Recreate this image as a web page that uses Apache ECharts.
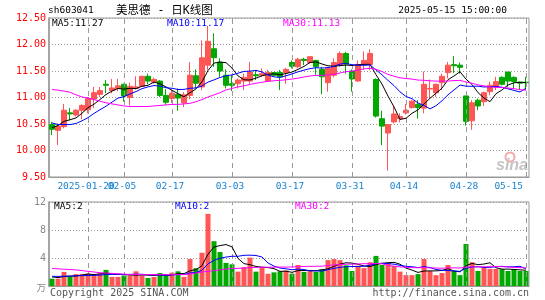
<!DOCTYPE html>
<html><head><meta charset="utf-8">
<script src="https://cdn.jsdelivr.net/npm/echarts@6/dist/echarts.min.js"></script>
<style>html,body{margin:0;padding:0;background:#fff}#c{width:545px;height:300px}</style>
</head><body><div id="c"></div>
<script>
const dates = [
'2025-01-10','2025-01-13','2025-01-14','2025-01-15','2025-01-16','2025-01-17',
'2025-01-20','2025-01-21','2025-01-22','2025-01-23','2025-01-24','2025-01-27',
'2025-02-05','2025-02-06','2025-02-07','2025-02-10','2025-02-11','2025-02-12','2025-02-13','2025-02-14',
'2025-02-17','2025-02-18','2025-02-19','2025-02-20','2025-02-21','2025-02-24','2025-02-25','2025-02-26','2025-02-27','2025-02-28',
'2025-03-03','2025-03-04','2025-03-05','2025-03-06','2025-03-07','2025-03-10','2025-03-11','2025-03-12','2025-03-13','2025-03-14',
'2025-03-17','2025-03-18','2025-03-19','2025-03-20','2025-03-21','2025-03-24','2025-03-25','2025-03-26','2025-03-27','2025-03-28',
'2025-03-31','2025-04-01','2025-04-02','2025-04-03','2025-04-07','2025-04-08','2025-04-09','2025-04-10','2025-04-11',
'2025-04-14','2025-04-15','2025-04-16','2025-04-17','2025-04-18','2025-04-21','2025-04-22','2025-04-23','2025-04-24','2025-04-25',
'2025-04-28','2025-04-29','2025-04-30','2025-05-06','2025-05-07','2025-05-08','2025-05-09','2025-05-12','2025-05-13','2025-05-14','2025-05-15'];

const open  = [10.49,10.38,10.45,10.71,10.67,10.76,10.77,10.97,11.06,11.25, 11.13,11.17,11.25,11.00,11.17,11.21,11.40,11.29,11.31,11.04,
               10.98,11.06,10.90,11.04,11.41,11.20,11.61,11.92,11.67,11.42, 11.26,11.26,11.31,11.31,11.43,11.42,11.31,11.47,11.47,11.47,
               11.66,11.58,11.72,11.66,11.70,11.53,11.28,11.42,11.61,11.83, 11.50,11.31,11.62,11.62,11.34,10.60,10.33,10.54,10.60,10.71,
               10.81,10.87,10.80,11.16,11.09,11.28,11.47,11.62,11.61,11.03, 10.56,10.95,10.92,11.11,11.20,11.38,11.48,11.38,11.29,11.29];
const close = [10.40,10.46,10.76,10.69,10.76,10.85,10.98,11.09,11.13,11.23, 11.18,11.22,11.03,11.21,11.20,11.40,11.31,11.34,11.04,10.91,
               11.08,10.99,11.05,11.42,11.27,11.75,12.06,11.75,11.50,11.23, 11.23,11.33,11.38,11.48,11.41,11.45,11.47,11.42,11.39,11.53,
               11.59,11.72,11.70,11.77,11.58,11.39,11.55,11.66,11.83,11.63, 11.35,11.62,11.70,11.83,10.65,10.46,10.49,10.69,10.64,10.76,
               10.93,10.81,11.25,11.17,11.25,11.40,11.61,11.60,11.57,10.55, 10.90,10.84,11.09,11.23,11.30,11.25,11.31,11.30,11.27,11.28];
const low   = [10.29,10.10,10.42,10.57,10.64,10.59,10.70,10.80,11.01,11.08, 11.08,11.12,10.92,10.85,11.15,11.20,11.25,11.26,11.01,10.86,
               10.90,10.75,10.82,10.97,11.18,11.14,11.52,11.58,11.39,11.17, 11.12,11.17,11.14,11.26,11.33,11.39,11.30,11.40,11.14,11.26,
               11.55,11.55,11.61,11.64,11.43,11.06,11.11,11.38,11.58,11.45, 11.11,11.30,11.52,11.52,10.62,10.10, 9.62,10.51,10.53,10.68,
               10.79,10.60,10.70,10.98,11.01,11.14,11.36,11.46,11.45,10.47, 10.39,10.76,10.84,11.04,11.14,11.23,11.20,11.17,11.14,11.14];
const high  = [10.54,10.51,10.88,10.80,10.78,10.87,11.01,11.20,11.20,11.33, 11.35,11.35,11.26,11.28,11.40,11.41,11.45,11.38,11.33,11.16,
               11.14,11.17,11.10,11.67,11.53,12.08,12.35,12.21,11.74,11.53, 11.42,11.36,11.45,11.67,11.52,11.55,11.52,11.48,11.52,11.56,
               11.70,11.75,11.75,11.78,11.71,11.58,11.58,11.74,11.87,11.86, 11.53,11.70,11.87,11.91,11.36,10.75,10.50,10.84,10.70,10.88,
               10.95,10.95,11.49,11.34,11.26,11.45,11.67,11.78,11.66,11.03, 10.95,10.98,11.11,11.30,11.39,11.40,11.48,11.40,11.30,11.39];
const volume = [1.05,1.05,2.0,1.33,1.7,1.7,1.8,1.6,1.8,2.3, 1.3,1.3,1.5,1.5,2.1,1.5,1.15,1.3,1.85,1.7,
                1.9,2.1,1.3,3.85,2.55,4.75,10.3,6.4,4.85,3.3, 3.1,2.05,2.7,4.05,2.05,2.6,1.75,1.95,2.1,2.2,
                1.76,3.0,2.0,2.15,2.0,2.4,3.7,3.85,3.7,2.95, 2.15,2.9,2.55,3.4,4.3,3.0,3.35,2.85,2.05,1.55,
                1.55,1.7,3.85,2.15,1.55,1.85,3.0,2.15,1.55,6.0, 3.4,2.15,2.6,2.45,2.45,2.4,2.15,2.4,2.15,2.15];

// moving-average values for days whose window starts before the visible range
const ma5Head  = [10.43,10.47,10.55,10.58];
const ma10Head = [10.52,10.49,10.49,10.49,10.51,10.56,10.62,10.70,10.77];
const ma30Head = [11.15,11.14,11.12,11.10,11.05,11.01,10.99,10.96,10.93,10.90,10.88,10.86,10.84,10.83,10.83,10.83,10.83,10.84,10.85,10.86,
                  10.87,10.87,10.88,10.89,10.92,10.96,11.01,11.05,11.09];
const vma5Head  = [1.30,1.20,1.35,1.40];
const vma10Head = [1.38,1.37,1.40,1.42,1.45,1.48,1.50,1.52,1.56];
const vma30Head = [2.50,2.45,2.40,2.35,2.30,2.20,2.10,2.00,1.90,1.85,1.80,1.75,1.70,1.65,1.65,1.62,1.62,1.62,1.62,1.62,
                   1.62,1.62,1.62,1.70,1.85,2.00,2.10,2.20,2.30];

const labelDates = ['2025-01-20','2025-02-05','2025-02-17','2025-03-03','2025-03-17','2025-03-31','2025-04-14','2025-04-28','2025-05-15'];
const volTicks = [12, 8, 4, 0];
const volTickText = ['12', '8', '4', '万'];

const RED = '#ff5555', GREEN = '#00a800', MONO = '"DejaVu Sans Mono"';

function movingAvg(vals, n, head) {
  return vals.map((v, i) => {
    if (i < n - 1) return head[i];
    let s = 0;
    for (let j = i - n + 1; j <= i; j++) s += vals[j];
    return +(s / n).toFixed(3);
  });
}
const labelIdx = labelDates.map(d => dates.indexOf(d));
const kData = dates.map((d, i) => [open[i], close[i], low[i], high[i]]);
const vData = volume.map((v, i) => ({ value: v, itemStyle: { color: close[i] >= open[i] ? RED : GREEN, opacity: 1 } }));

const vLines = {
  silent: true, symbol: ['none', 'none'], animation: false,
  label: { show: false },
  lineStyle: { color: '#999999', type: [5, 4], width: 1, opacity: 1 },
  emphasis: { disabled: true },
  data: labelDates.map(d => ({ xAxis: d }))
};
function maLine(name, data, color, xi) {
  return { name, type: 'line', data, xAxisIndex: xi, yAxisIndex: xi, symbol: 'none', smooth: false,
           lineStyle: { color, width: 1 }, silent: true, z: 5 };
}
const txt = (text, x, y, fill, size, align, family) => ({
  type: 'text', x, y, silent: true, z: 50,
  style: { text, fill, font: size + 'px ' + (family || MONO), textAlign: align || 'left', textVerticalAlign: 'middle' }
});

const chart = echarts.init(document.getElementById('c'), null, { renderer: 'canvas' });
chart.setOption({
  animation: false,
  backgroundColor: '#fff',
  grid: [
    { left: 49, top: 18, width: 480, height: 159, show: true, borderColor: '#999', borderWidth: 1, backgroundColor: 'transparent' },
    { left: 49, top: 202, width: 480, height: 84, show: true, borderColor: '#999', borderWidth: 1, backgroundColor: 'transparent' }
  ],
  xAxis: [
    { type: 'category', data: dates, gridIndex: 0, boundaryGap: true,
      axisLine: { show: true, lineStyle: { color: '#999' } }, axisTick: { show: false }, splitLine: { show: false },
      axisLabel: { show: false } },
    { type: 'category', data: dates, gridIndex: 1, boundaryGap: true,
      axisLine: { show: true, lineStyle: { color: '#999' } }, axisTick: { show: false }, splitLine: { show: false },
      axisLabel: { show: false } }
  ],
  yAxis: [
    { type: 'value', gridIndex: 0, min: 9.5, max: 12.5, interval: 0.5,
      axisLine: { show: true, lineStyle: { color: '#999', width: 1.5 } }, axisTick: { show: false },
      axisLabel: { color: '#ff0000', fontSize: 10, fontFamily: 'DejaVu Sans Mono', margin: 3, formatter: v => v.toFixed(2) },
      splitLine: { show: true, lineStyle: { color: '#999999', type: [1, 2], width: 1 } } },
    { type: 'value', gridIndex: 1, min: 0, max: 12, interval: 4,
      axisLine: { show: true, lineStyle: { color: '#999', width: 1.5 } }, axisTick: { show: false },
      axisLabel: { show: false },
      splitLine: { show: true, lineStyle: { color: '#999999', type: [1, 2], width: 1 } } }
  ],
  series: [
    { name: 'K', type: 'candlestick', data: kData, xAxisIndex: 0, yAxisIndex: 0, barWidth: 5,
      itemStyle: { color: RED, color0: GREEN, borderColor: RED, borderColor0: GREEN, borderWidth: 1 },
      markLine: vLines, silent: true, z: 3 },
    maLine('MA5', movingAvg(close, 5, ma5Head), '#000000', 0),
    maLine('MA10', movingAvg(close, 10, ma10Head), '#0000ff', 0),
    maLine('MA30', movingAvg(close, 30, ma30Head), '#ff00ff', 0),
    { name: 'VOL', type: 'bar', data: vData, xAxisIndex: 1, yAxisIndex: 1, barWidth: 5, markLine: vLines, silent: true, z: 3 },
    maLine('VMA5', movingAvg(volume, 5, vma5Head), '#000000', 1),
    maLine('VMA10', movingAvg(volume, 10, vma10Head), '#0000ff', 1),
    maLine('VMA30', movingAvg(volume, 30, vma30Head), '#ff00ff', 1)
  ]
});

// tick labels positioned through the chart's own scales
const gfx = [
  txt('sh603041', 48, 11, '#000', 9.5),
  txt('美思德 - 日K线图', 116, 11, '#000', 11.5, 'left', '"DejaVu Sans Mono","Noto Sans CJK SC"'),
  txt('2025-05-15 15:00:00', 507, 11, '#000', 9.5, 'right'),
  txt('MA5:11.27', 52, 24, '#000', 9.5),
  txt('MA10:11.17', 167, 24, '#0000ff', 9.5),
  txt('MA30:11.13', 283, 24, '#ff00ff', 9.5),
  txt('MA5:2', 54, 207, '#000', 9.5),
  txt('MA10:2', 175, 207, '#0000ff', 9.5),
  txt('MA30:2', 295, 207, '#ff00ff', 9.5),
  txt('Copyright 2025 SINA.COM', 50, 293, '#555', 10),
  txt('http://finance.sina.com.cn', 529, 293, '#555', 10, 'right'),
  { type: 'circle', shape: { cx: 510, cy: 157, r: 4.5 }, silent: true, style: { fill: 'none', stroke: '#f2a8a8', lineWidth: 2 } },
  { type: 'text', x: 512, y: 166, silent: true,
    style: { text: 'sina', fill: '#c4c4c4', font: 'italic bold 16px "Liberation Sans"', textAlign: 'center', textVerticalAlign: 'middle' } }
];
labelDates.forEach((d, n) => {
  const p = chart.convertToPixel({ gridIndex: 0 }, [labelIdx[n], 9.5]);
  const last = n === labelDates.length - 1;
  const text = n === 0 ? d : d.slice(5);
  gfx.push(txt(text, last ? p[0] - 3 : p[0] - 2, p[1] + 9.5, '#1a82d0', 9.5, last ? 'right' : 'center'));
});
volTicks.forEach((v, n) => {
  const p = chart.convertToPixel({ gridIndex: 1 }, [0, v]);
  gfx.push(txt(volTickText[n], 46, v === 0 ? p[1] + 1 : p[1], '#888888', n === 3 ? 9.5 : 10, 'right',
               n === 3 ? '"Noto Sans CJK SC"' : MONO));
});
chart.setOption({ graphic: gfx });
</script></body></html>
